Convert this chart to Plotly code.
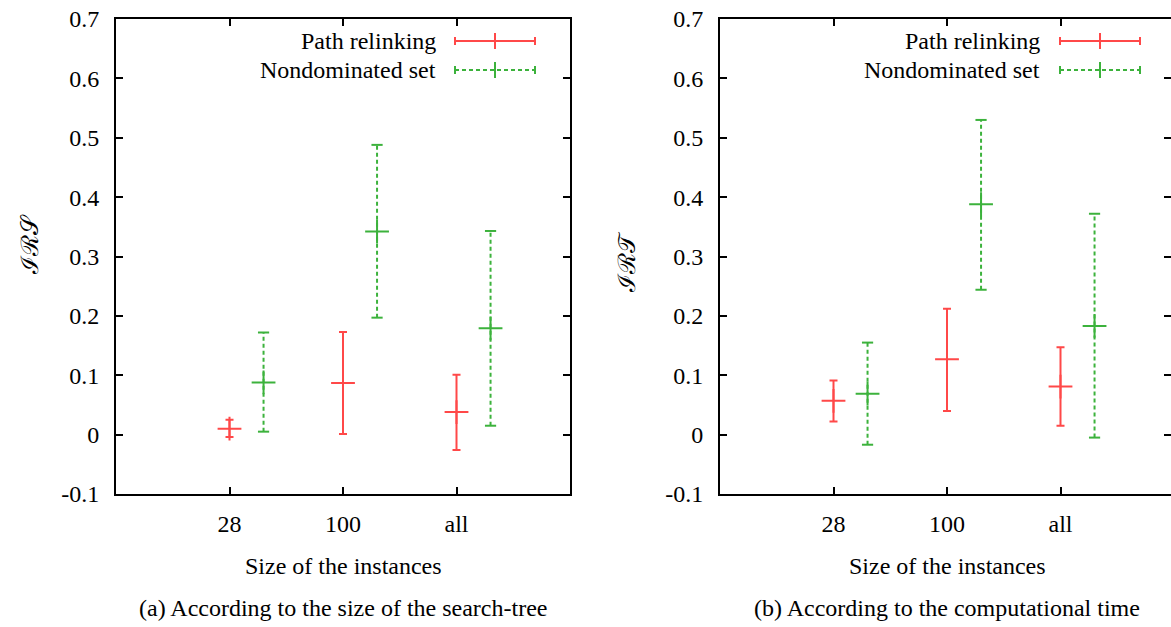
import plotly.graph_objects as go

# data
sizes = ["28", "100", "all"]
xpos = [1, 2, 3]
nd_shift = 0.3

irs_pr = [0.010, 0.087, 0.038]
irs_pr_lo = [-0.004, 0.001, -0.026]
irs_pr_hi = [0.025, 0.173, 0.101]
irs_nd = [0.088, 0.342, 0.179]
irs_nd_lo = [0.005, 0.197, 0.015]
irs_nd_hi = [0.172, 0.488, 0.343]

irt_pr = [0.057, 0.127, 0.081]
irt_pr_lo = [0.022, 0.040, 0.015]
irt_pr_hi = [0.091, 0.212, 0.147]
irt_nd = [0.069, 0.388, 0.183]
irt_nd_lo = [-0.017, 0.244, -0.005]
irt_nd_hi = [0.155, 0.530, 0.372]

ytick_vals = [-0.1, 0, 0.1, 0.2, 0.3, 0.4, 0.5, 0.6, 0.7]
ytick_text = ["-0.1", "0", "0.1", "0.2", "0.3", "0.4", "0.5", "0.6", "0.7"]

RED = "rgb(255,72,72)"
GREEN = "rgb(60,178,60)"
FONT = "Liberation Serif"
FS = 24
W, H = 1171, 627


def px(x):
    return x / W


def py(y):
    return 1 - y / H


fig = go.Figure()


def add_panel(xa, ya, pr, pr_lo, pr_hi, nd, nd_lo, nd_hi):
    fig.add_trace(go.Scatter(
        x=xpos, y=pr, mode="markers", xaxis=xa, yaxis=ya,
        marker=dict(symbol="cross-thin", size=17, line=dict(width=2, color=RED)),
        error_y=dict(type="data", symmetric=False,
                     array=[h - c for h, c in zip(pr_hi, pr)],
                     arrayminus=[c - l for c, l in zip(pr, pr_lo)],
                     color=RED, thickness=2, width=4),
        showlegend=False))
    xs, ys = [], []
    for x, lo, hi in zip(xpos, nd_lo, nd_hi):
        xs += [x + nd_shift, x + nd_shift, None]
        ys += [lo, hi, None]
    fig.add_trace(go.Scatter(
        x=xs, y=ys, mode="lines", xaxis=xa, yaxis=ya,
        line=dict(color=GREEN, width=2, dash="4px,3px"), showlegend=False))
    fig.add_trace(go.Scatter(
        x=[x + nd_shift for x in xpos] * 2, y=nd_lo + nd_hi, mode="markers",
        xaxis=xa, yaxis=ya,
        marker=dict(symbol="line-ew", size=8, line=dict(width=2, color=GREEN)),
        showlegend=False))
    fig.add_trace(go.Scatter(
        x=[x + nd_shift for x in xpos], y=nd, mode="markers", xaxis=xa, yaxis=ya,
        marker=dict(symbol="cross-thin", size=17, line=dict(width=2, color=GREEN)),
        showlegend=False))


add_panel("x", "y", irs_pr, irs_pr_lo, irs_pr_hi, irs_nd, irs_nd_lo, irs_nd_hi)
add_panel("x2", "y2", irt_pr, irt_pr_lo, irt_pr_hi, irt_nd, irt_nd_lo, irt_nd_hi)

tickfont = dict(family=FONT, size=FS, color="black")
common = dict(ticks="inside", ticklen=7, tickwidth=1.5, tickcolor="black",
              showline=True, linecolor="black", linewidth=2, mirror="ticks",
              showgrid=False, zeroline=False, tickfont=tickfont,
              ticklabeloverflow="allow", fixedrange=True)
xcommon = dict(tickvals=xpos, ticktext=sizes, ticklabelstandoff=7, **common)
ycommon = dict(range=[-0.1, 0.7], tickvals=ytick_vals, ticktext=ytick_text,
               ticklabelstandoff=10, domain=[py(494), py(19)], **common)

fig.update_layout(
    width=W, height=H,
    margin=dict(l=0, r=0, t=0, b=0, autoexpand=False),
    paper_bgcolor="white", plot_bgcolor="white",
    font=dict(family=FONT, size=FS, color="black"),
    xaxis=dict(domain=[px(116), px(570)], range=[0, 4], anchor="y", **xcommon),
    yaxis=dict(anchor="x", **ycommon),
    xaxis2=dict(domain=[px(720), 1.0], range=[0, (1171 - 720) / 113.5],
                anchor="y2", **xcommon),
    yaxis2=dict(anchor="x2", **ycommon),
    showlegend=False,
)

# titles and captions
texts = [
    ("Size of the instances", 343, 566, 0),
    ("Size of the instances", 947, 566, 0),
    ("(a) According to the size of the search-tree", 343, 608, 0),
    ("(b) According to the computational time", 947, 608, 0),
    ("ℐℛ𝒮", 30, 245, -90),
    ("ℐℛ𝒯", 627, 262, -90),
]
for t, x, y, ang in texts:
    fig.add_annotation(text=t, x=px(x), y=py(y), xref="paper", yref="paper",
                       xanchor="center", yanchor="middle",
                       showarrow=False, textangle=ang,
                       font=dict(family=FONT, size=FS, color="black"))

# hand-drawn key (text left, sample right)
for x_text, x0 in [(438, 455), (1042, 1060)]:
    for label, yk, col, dash in [("Path relinking", 41, RED, "solid"),
                                 ("Nondominated set", 70, GREEN, "4px,3px")]:
        fig.add_annotation(text=label, x=px(x_text), y=py(yk), xref="paper",
                           yref="paper", xanchor="right", yanchor="middle",
                           showarrow=False,
                           font=dict(family=FONT, size=FS, color="black"))
        x1 = x0 + 80
        xm = x0 + 40
        fig.add_shape(type="line", xref="paper", yref="paper",
                      x0=px(x0), x1=px(x1), y0=py(yk), y1=py(yk),
                      line=dict(color=col, width=2, dash=dash))
        for xc in (x0, x1):
            fig.add_shape(type="line", xref="paper", yref="paper",
                          x0=px(xc), x1=px(xc), y0=py(yk - 4), y1=py(yk + 4),
                          line=dict(color=col, width=2))
        fig.add_shape(type="line", xref="paper", yref="paper",
                      x0=px(xm), x1=px(xm), y0=py(yk - 8), y1=py(yk + 8),
                      line=dict(color=col, width=2))

# drop the page's default body margin so the figure sits at the window corner
fig.write_html("out.html", config={"displayModeBar": False},
               post_script="document.body.style.margin = '0px';")
